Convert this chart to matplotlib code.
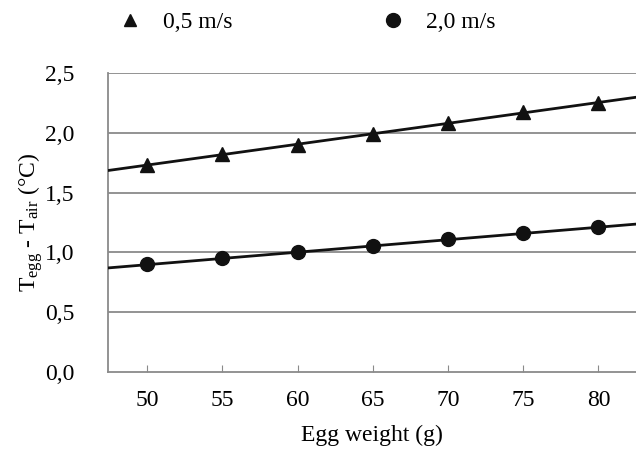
import numpy as np
import matplotlib
matplotlib.use("Agg")
import matplotlib.pyplot as plt
from matplotlib.lines import Line2D

plt.rcParams["font.family"] = ["Liberation Serif", "DejaVu Serif"]
plt.rcParams["mathtext.fontset"] = "custom"
plt.rcParams["mathtext.rm"] = "Liberation Serif"
plt.rcParams["mathtext.it"] = "Liberation Serif:italic"

egg_weight = [50, 55, 60, 65, 70, 75, 80]
dt_05 = [1.73, 1.82, 1.90, 1.99, 2.08, 2.17, 2.25]
dt_20 = [0.90, 0.95, 1.00, 1.05, 1.11, 1.16, 1.21]
series_labels = ["0,5 m/s", "2,0 m/s"]
y_ticks = [0.0, 0.5, 1.0, 1.5, 2.0, 2.5]

grey = "#8a8a8a"
fig = plt.figure(figsize=(6.36, 4.5), dpi=100)
ax = fig.add_axes([0.17, 0.173, 0.83, 0.665])

x_lo, x_hi = 47.4, 82.5
ax.set_xlim(x_lo, x_hi)
ax.set_ylim(0, 2.5)

for y in y_ticks[1:]:
    ax.axhline(y, color=grey, lw=1.3, zorder=1)

# regression lines across the whole axis, then the measured points
xs = np.array([x_lo, x_hi])
for vals, marker, ms in [(dt_05, "^", 10), (dt_20, "o", 10)]:
    k, b = np.polyfit(egg_weight, vals, 1)
    ax.plot(xs, k * xs + b, color="#111111", lw=2, zorder=3)
    ax.plot(egg_weight, vals, ls="none", marker=marker, ms=ms,
            color="#111111", zorder=4)

for side in ["top", "right"]:
    ax.spines[side].set_visible(False)
for side in ["left", "bottom"]:
    ax.spines[side].set_color(grey)
    ax.spines[side].set_linewidth(1.3)

ax.set_xticks(egg_weight)
ax.set_yticks(y_ticks)
ax.set_yticklabels([f"{v:.1f}".replace(".", ",") for v in y_ticks])
ax.tick_params(axis="x", direction="in", length=5, color=grey, labelsize=17, pad=13)
ax.tick_params(axis="y", length=0, labelsize=17, pad=24)

ax.set_xlabel("Egg weight (g)", fontsize=17, labelpad=10)
ax.set_ylabel(r"T$_{\mathrm{egg}}$ - T$_{\mathrm{air}}$ (°C)", fontsize=17, labelpad=0)

handles = [
    Line2D([], [], ls="none", marker="^", ms=9, color="#111111"),
    Line2D([], [], ls="none", marker="o", ms=10, color="#111111"),
]
fig.legend(handles, series_labels, loc="center left", bbox_to_anchor=(0.134, 0.95),
           ncol=2, frameon=False, fontsize=17, handletextpad=0.4, columnspacing=5.8)

fig.savefig("out.png", dpi=100)
